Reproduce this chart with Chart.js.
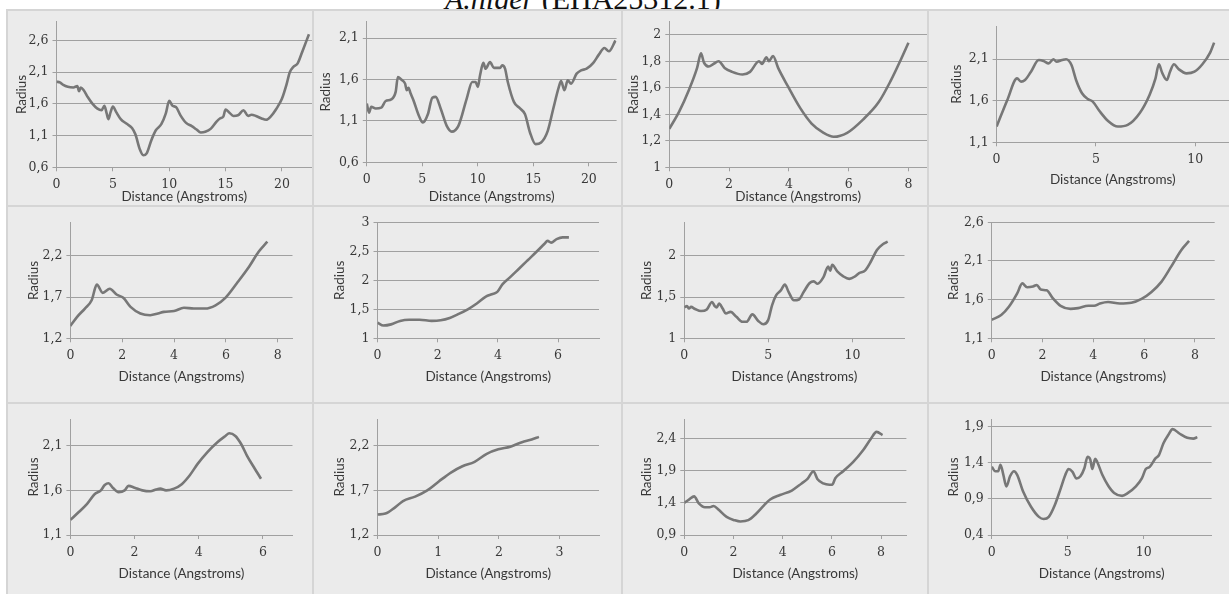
<!DOCTYPE html>
<html>
<head>
<meta charset="utf-8">
<script src="https://cdn.jsdelivr.net/npm/chart.js@4.4.1/dist/chart.umd.min.js"></script>
<style>
  html, body { margin: 0; padding: 0; background: #fff; }
  #fig { position: relative; width: 1229px; height: 594px; overflow: hidden; background: #fff; }
  #title { position: absolute; left: 445px; top: -16px; font-family: "Liberation Serif", "Times New Roman", serif;
           font-size: 30px; line-height: 30px; color: #111; white-space: nowrap; z-index: 0; }
  .cell { position: absolute; background: #ebebeb; z-index: 1; overflow: hidden; }
  .cell canvas { position: absolute; left: 0; top: 0; }
  .rule { position: absolute; background: #d5d5d5; z-index: 2; }
</style>
</head>
<body>
<div id="fig"><div id="title"><i>A.niger</i> (EHA25312.1)</div></div>
<script>
// Channel radius profiles (Angstroms) along the tunnel distance, one array pair per profile.
const p1Dist = [0, 0.3, 0.6, 1.0, 1.5, 1.85, 2.0, 2.15, 2.4, 2.8,
                3.2, 3.6, 4.0, 4.25, 4.45, 4.6, 4.8, 5.0, 5.3, 5.7,
                6.2, 6.7, 7.0, 7.4, 7.7, 8.0, 8.4, 8.8, 9.3, 9.7,
                10.0, 10.3, 10.6, 11.0, 11.5, 12.0, 12.4, 12.8, 13.2, 13.7,
                14.2, 14.5, 14.8, 15.0, 15.3, 15.7, 16.1, 16.6, 17.0, 17.3,
                17.7, 18.2, 18.6, 19.0, 19.5, 20.0, 20.4, 20.7, 21.0, 21.4,
                21.8, 22.4];
const p1Radius = [1.95, 1.94, 1.9, 1.87, 1.86, 1.88, 1.8, 1.86, 1.82, 1.7,
                  1.6, 1.53, 1.5, 1.57, 1.45, 1.36, 1.47, 1.56, 1.47, 1.36,
                  1.29, 1.22, 1.12, 0.88, 0.79, 0.82, 1.02, 1.18, 1.28, 1.45,
                  1.65, 1.57, 1.55, 1.42, 1.3, 1.25, 1.2, 1.15, 1.16, 1.21,
                  1.32, 1.37, 1.4, 1.51, 1.47, 1.41, 1.42, 1.5, 1.41, 1.43,
                  1.41, 1.37, 1.35, 1.4, 1.52, 1.68, 1.9, 2.1, 2.18, 2.24,
                  2.42, 2.7];

const p2Dist = [0, 0.2, 0.4, 0.8, 1.3, 1.7, 2.2, 2.6, 2.8, 3.1,
                3.45, 3.6, 3.75, 3.95, 4.2, 4.7, 5.05, 5.5, 5.9, 6.2,
                6.65, 7.2, 7.65, 8.25, 9.0, 9.5, 9.8, 10.0, 10.2, 10.5,
                10.7, 11.1, 11.45, 12.0, 12.2, 12.45, 12.7, 13.25, 13.8, 14.25,
                14.7, 15.2, 15.7, 16.3, 16.8, 17.3, 17.5, 17.8, 18.1, 18.4,
                18.9, 19.3, 19.8, 20.4, 20.9, 21.4, 21.8, 22.4];
const p2Radius = [1.31, 1.2, 1.27, 1.25, 1.26, 1.34, 1.36, 1.45, 1.63, 1.6,
                  1.55, 1.47, 1.5, 1.43, 1.35, 1.16, 1.08, 1.18, 1.38, 1.39,
                  1.25, 1.04, 0.97, 1.04, 1.37, 1.57, 1.57, 1.51, 1.65, 1.8,
                  1.73, 1.81, 1.74, 1.74, 1.77, 1.73, 1.57, 1.33, 1.25, 1.18,
                  0.96, 0.82, 0.84, 0.98, 1.25, 1.51, 1.58, 1.47, 1.59, 1.55,
                  1.67, 1.71, 1.73, 1.8, 1.9, 1.98, 1.94, 2.07];

const p3Dist = [0, 0.33, 0.66, 0.93, 1.06, 1.16, 1.32, 1.48, 1.65, 1.85,
                2.1, 2.45, 2.7, 3.0, 3.1, 3.25, 3.33, 3.47, 3.64, 3.97,
                4.37, 4.76, 5.16, 5.5, 5.95, 6.48, 7.0, 7.4, 7.74, 8.0];
const p3Radius = [1.29, 1.42, 1.585, 1.75, 1.86, 1.79, 1.76, 1.78, 1.8, 1.75,
                  1.72, 1.7, 1.72, 1.8, 1.78, 1.83, 1.8, 1.84, 1.75, 1.61,
                  1.45, 1.33, 1.26, 1.23, 1.26, 1.36, 1.49, 1.65, 1.81, 1.94];

const p4Dist = [0, 0.54, 1.03, 1.23, 1.43, 1.73, 2.12, 2.36, 2.62, 2.86,
                3.02, 3.3, 3.5, 3.77, 4.0, 4.3, 4.6, 4.84, 5.2, 5.6,
                6.1, 6.6, 7.2, 7.7, 8.0, 8.17, 8.33, 8.57, 8.73, 8.93,
                9.17, 9.56, 9.96, 10.36, 10.75, 10.95];
const p4Radius = [1.29, 1.61, 1.87, 1.83, 1.85, 1.95, 2.09, 2.08, 2.05, 2.1,
                  2.07, 2.09, 2.1, 2.03, 1.85, 1.69, 1.62, 1.59, 1.47, 1.36,
                  1.29, 1.31, 1.45, 1.67, 1.87, 2.04, 1.94, 1.85, 1.95, 2.04,
                  1.98, 1.93, 1.95, 2.04, 2.18, 2.3];

const p5Dist = [0, 0.26, 0.56, 0.82, 1.02, 1.25, 1.52, 1.78, 2.04, 2.32,
                2.7, 3.08, 3.38, 3.61, 4.0, 4.38, 4.76, 5.2, 5.6, 5.98,
                6.43, 6.9, 7.27, 7.6];
const p5Radius = [1.35, 1.46, 1.56, 1.66, 1.85, 1.75, 1.8, 1.73, 1.69, 1.58,
                  1.5, 1.48, 1.5, 1.52, 1.53, 1.57, 1.56, 1.56, 1.6, 1.69,
                  1.87, 2.07, 2.25, 2.37];

const p6Dist = [0, 0.2, 0.45, 0.75, 1.05, 1.4, 1.8, 2.1, 2.4, 2.7,
                3.0, 3.3, 3.6, 3.8, 3.98, 4.15, 4.4, 4.7, 5.0, 5.3,
                5.55, 5.65, 5.77, 5.95, 6.15, 6.36];
const p6Radius = [1.27, 1.22, 1.24, 1.3, 1.32, 1.32, 1.3, 1.31, 1.35, 1.42,
                  1.5, 1.6, 1.72, 1.76, 1.8, 1.93, 2.05, 2.2, 2.35, 2.5,
                  2.63, 2.68, 2.65, 2.71, 2.74, 2.74];

const p7Dist = [0, 0.16, 0.28, 0.4, 0.64, 0.99, 1.34, 1.65, 1.81, 1.93,
                2.07, 2.28, 2.47, 2.75, 3.1, 3.46, 3.7, 4.05, 4.4, 4.7,
                4.99, 5.22, 5.46, 5.74, 5.98, 6.21, 6.52, 6.82, 7.1, 7.46,
                7.7, 7.93, 8.28, 8.56, 8.68, 8.8, 9.1, 9.46, 9.81, 10.16,
                10.4, 10.75, 11.1, 11.46, 11.81, 12.1];
const p7Radius = [1.375, 1.39, 1.36, 1.38, 1.355, 1.33, 1.35, 1.44, 1.39, 1.375,
                  1.42, 1.36, 1.3, 1.32, 1.26, 1.2, 1.2, 1.29, 1.21, 1.17,
                  1.22, 1.4, 1.52, 1.58, 1.65, 1.56, 1.46, 1.47, 1.56, 1.67,
                  1.69, 1.66, 1.74, 1.87, 1.82, 1.89, 1.81, 1.75, 1.72, 1.75,
                  1.79, 1.82, 1.93, 2.07, 2.14, 2.17];

const p8Dist = [0, 0.37, 0.68, 1.0, 1.2, 1.39, 1.62, 1.77, 1.93, 2.16,
                2.4, 2.71, 3.1, 3.4, 3.8, 4.03, 4.26, 4.58, 5.04, 5.5,
                5.9, 6.29, 6.68, 7.07, 7.46, 7.77];
const p8Radius = [1.34, 1.4, 1.51, 1.68, 1.81, 1.76, 1.77, 1.79, 1.73, 1.72,
                  1.62, 1.52, 1.48, 1.49, 1.52, 1.52, 1.55, 1.57, 1.55, 1.56,
                  1.61, 1.7, 1.83, 2.03, 2.24, 2.36];

const p9Dist = [0, 0.27, 0.52, 0.76, 0.95, 1.07, 1.19, 1.32, 1.5, 1.69,
                1.81, 2.0, 2.24, 2.49, 2.67, 2.8, 2.98, 3.23, 3.47, 3.72,
                3.97, 4.27, 4.58, 4.83, 4.95, 5.14, 5.32, 5.5, 5.75, 5.94];
const p9Radius = [1.27, 1.36, 1.45, 1.56, 1.6, 1.66, 1.68, 1.63, 1.58, 1.6,
                  1.65, 1.63, 1.6, 1.59, 1.61, 1.62, 1.6, 1.62, 1.67, 1.77,
                  1.9, 2.03, 2.14, 2.21, 2.24, 2.21, 2.12, 1.99, 1.84, 1.73];

const p10Dist = [0, 0.13, 0.29, 0.42, 0.62, 0.82, 1.01, 1.21, 1.4, 1.6,
                 1.8, 1.99, 2.19, 2.38, 2.54, 2.66];
const p10Radius = [1.43, 1.44, 1.51, 1.58, 1.63, 1.7, 1.8, 1.9, 1.97, 2.02,
                   2.11, 2.16, 2.19, 2.24, 2.27, 2.3];

const p11Dist = [0, 0.19, 0.4, 0.59, 0.84, 1.03, 1.19, 1.4, 1.72, 2.04,
                 2.28, 2.6, 2.92, 3.24, 3.49, 3.89, 4.37, 4.77, 5.01, 5.25,
                 5.41, 5.65, 5.9, 6.01, 6.14, 6.46, 6.86, 7.26, 7.58, 7.82,
                 8.06];
const p11Radius = [1.4, 1.45, 1.5, 1.39, 1.33, 1.33, 1.35, 1.29, 1.18, 1.13,
                   1.11, 1.13, 1.23, 1.36, 1.45, 1.52, 1.59, 1.7, 1.77, 1.89,
                   1.77, 1.7, 1.68, 1.68, 1.78, 1.89, 2.03, 2.21, 2.39, 2.5,
                   2.45];

const p12Dist = [0, 0.23, 0.42, 0.57, 0.76, 0.96, 1.2, 1.46, 1.67, 2.06,
                 2.58, 3.1, 3.41, 3.75, 4.14, 4.53, 4.84, 5.05, 5.31, 5.57,
                 5.83, 6.09, 6.3, 6.48, 6.61, 6.8, 6.93, 7.27, 7.66, 8.05,
                 8.57, 8.96, 9.48, 9.87, 10.13, 10.39, 10.78, 10.99, 11.3, 11.61,
                 11.9, 12.34, 12.86, 13.26, 13.52];
const p12Radius = [1.34, 1.28, 1.28, 1.37, 1.23, 1.07, 1.21, 1.28, 1.23, 1.0,
                   0.79, 0.65, 0.62, 0.65, 0.81, 1.04, 1.23, 1.31, 1.27, 1.18,
                   1.21, 1.32, 1.48, 1.44, 1.31, 1.45, 1.41, 1.23, 1.08, 0.98,
                   0.94, 0.98, 1.07, 1.18, 1.31, 1.34, 1.46, 1.5, 1.67, 1.78,
                   1.86, 1.8, 1.74, 1.73, 1.75];

// Axis ranges and tick labels for each profile.
const p1XTicks = [0, 5, 10, 15, 20],  p1YTicks = [0.6, 1.1, 1.6, 2.1, 2.6];
const p2XTicks = [0, 5, 10, 15, 20],  p2YTicks = [0.6, 1.1, 1.6, 2.1];
const p3XTicks = [0, 2, 4, 6, 8],     p3YTicks = [1, 1.2, 1.4, 1.6, 1.8, 2];
const p4XTicks = [0, 5, 10],          p4YTicks = [1.1, 1.6, 2.1];
const p5XTicks = [0, 2, 4, 6, 8],     p5YTicks = [1.2, 1.7, 2.2];
const p6XTicks = [0, 2, 4, 6],        p6YTicks = [1, 1.5, 2, 2.5, 3];
const p7XTicks = [0, 5, 10],          p7YTicks = [1, 1.5, 2];
const p8XTicks = [0, 2, 4, 6, 8],     p8YTicks = [1.1, 1.6, 2.1, 2.6];
const p9XTicks = [0, 2, 4, 6],        p9YTicks = [1.1, 1.6, 2.1];
const p10XTicks = [0, 1, 2, 3],       p10YTicks = [1.2, 1.7, 2.2];
const p11XTicks = [0, 2, 4, 6, 8],    p11YTicks = [0.9, 1.4, 1.9, 2.4];
const p12XTicks = [0, 5, 10],         p12YTicks = [0.4, 0.9, 1.4, 1.9];

const p1Range = [0, 22.67, 0.6, 2.9],  p2Range = [0, 22.5, 0.6, 2.3];
const p3Range = [0, 8.62, 1.0, 2.1],   p4Range = [0, 11.7, 1.1, 2.5];
const p5Range = [0, 8.57, 1.2, 2.6],   p6Range = [0, 7.36, 1.0, 3.0];
const p7Range = [0, 13.1, 1.0, 2.4],   p8Range = [0, 8.78, 1.1, 2.6];
const p9Range = [0, 6.92, 1.1, 2.4],   p10Range = [0, 3.65, 1.2, 2.5];
const p11Range = [0, 9.03, 0.9, 2.7],  p12Range = [0, 14.46, 0.4, 2.0];

const xTitle = 'Distance (Angstroms)';
const yTitle = 'Radius';

// Grid of panels: column and row edges of the figure.
const colEdges = [7, 313, 622, 928, 1229];
const rowEdges = [10, 206, 403, 594];

// Panel placement: plot box [left, top, right, bottom], x-title centre y, y-title centre x.
const panels = [
  { d: p1Dist,  r: p1Radius,  xt: p1XTicks,  yt: p1YTicks,  rg: p1Range,  c: 0, w: 0, box: [56.5, 18.3, 312, 167.3],   tY: 197,   tX: 21.7 },
  { d: p2Dist,  r: p2Radius,  xt: p2XTicks,  yt: p2YTicks,  rg: p2Range,  c: 1, w: 0, box: [366.8, 18.3, 616.6, 162.3], tY: 197,  tX: 326 },
  { d: p3Dist,  r: p3Radius,  xt: p3XTicks,  yt: p3YTicks,  rg: p3Range,  c: 2, w: 0, box: [669.3, 18.3, 927, 167.3],  tY: 197,   tX: 633.7 },
  { d: p4Dist,  r: p4Radius,  xt: p4XTicks,  yt: p4YTicks,  rg: p4Range,  c: 3, w: 0, box: [996.6, 26, 1229, 142.3],   tY: 180,   tX: 957 },
  { d: p5Dist,  r: p5Radius,  xt: p5XTicks,  yt: p5YTicks,  rg: p5Range,  c: 0, w: 1, box: [70.4, 222.7, 292.5, 338.3], tY: 377,  tX: 33.6 },
  { d: p6Dist,  r: p6Radius,  xt: p6XTicks,  yt: p6YTicks,  rg: p6Range,  c: 1, w: 1, box: [377.5, 222.3, 599, 338.3], tY: 377,   tX: 340 },
  { d: p7Dist,  r: p7Radius,  xt: p7XTicks,  yt: p7YTicks,  rg: p7Range,  c: 2, w: 1, box: [684.3, 222.7, 904.5, 338.3], tY: 377, tX: 646.8 },
  { d: p8Dist,  r: p8Radius,  xt: p8XTicks,  yt: p8YTicks,  rg: p8Range,  c: 3, w: 1, box: [991.8, 222.3, 1214.7, 338.3], tY: 377, tX: 954 },
  { d: p9Dist,  r: p9Radius,  xt: p9XTicks,  yt: p9YTicks,  rg: p9Range,  c: 0, w: 2, box: [70.4, 419, 292.5, 535],    tY: 573.3, tX: 33.6 },
  { d: p10Dist, r: p10Radius, xt: p10XTicks, yt: p10YTicks, rg: p10Range, c: 1, w: 2, box: [377.5, 419, 599, 535],    tY: 573.3, tX: 340 },
  { d: p11Dist, r: p11Radius, xt: p11XTicks, yt: p11YTicks, rg: p11Range, c: 2, w: 2, box: [684.3, 419, 906.4, 535],  tY: 573.3, tX: 646.8 },
  { d: p12Dist, r: p12Radius, xt: p12XTicks, yt: p12YTicks, rg: p12Range, c: 3, w: 2, box: [991.8, 419, 1211.6, 535], tY: 573.3, tX: 954 }
];

const lineColor = '#777777';
const gridColor = '#a0a0a0';
const tickFont = { family: '"DejaVu Serif", "Liberation Serif", serif', size: 12.5 };
const titleFont = { family: 'Lato, "Open Sans", sans-serif', size: 13.5 };
const textColor = '#383838';

const fig = document.getElementById('fig');

function fmtY(v) { return (Math.round(v * 10) / 10).toString().replace('.', ','); }

panels.forEach(p => {
  const x0 = colEdges[p.c], x1 = colEdges[p.c + 1];
  const y0 = rowEdges[p.w], y1 = rowEdges[p.w + 1];
  const cw = x1 - x0, ch = y1 - y0;

  const cell = document.createElement('div');
  cell.className = 'cell';
  cell.style.left = x0 + 'px'; cell.style.top = y0 + 'px';
  cell.style.width = cw + 'px'; cell.style.height = ch + 'px';
  const cv = document.createElement('canvas');
  cv.width = cw; cv.height = ch;
  cv.style.width = cw + 'px'; cv.style.height = ch + 'px';
  cell.appendChild(cv);
  fig.appendChild(cell);

  const [L, T, R, B] = p.box;
  const yAxisW = L - x0;
  const xAxisH = y1 - B;
  const lh = titleFont.size * 1.2;
  const titlePadBottom = Math.max(0, y1 - p.tY - lh / 2);
  const titlePadTop = Math.max(0, p.tX - x0 - lh / 2);

  new Chart(cv, {
    type: 'line',
    data: {
      datasets: [{
        data: p.d.map((x, i) => ({ x: x, y: p.r[i] })),
        borderColor: lineColor,
        borderWidth: 2.6,
        pointRadius: 0,
        fill: false,
        cubicInterpolationMode: 'monotone'
      }]
    },
    options: {
      responsive: false,
      animation: false,
      devicePixelRatio: 1,
      layout: { padding: { left: 0, top: T - y0, right: Math.max(0, x1 - R), bottom: 0 } },
      plugins: { legend: { display: false }, tooltip: { enabled: false }, title: { display: false } },
      scales: {
        x: {
          type: 'linear',
          min: p.rg[0], max: p.rg[1],
          afterBuildTicks: s => { s.ticks = p.xt.map(v => ({ value: v })); },
          afterFit: s => { s.height = xAxisH; },
          grid: { drawOnChartArea: false, drawTicks: true, tickLength: 4, color: gridColor },
          border: { display: true, color: gridColor, width: 1 },
          ticks: { autoSkip: false, maxRotation: 0, padding: 6, font: tickFont, color: textColor,
                   callback: v => String(v) },
          title: { display: true, text: xTitle, font: titleFont, color: textColor,
                   padding: { top: 0, bottom: titlePadBottom } }
        },
        y: {
          min: p.rg[2], max: p.rg[3],
          afterBuildTicks: s => { s.ticks = p.yt.map(v => ({ value: v })); },
          afterFit: s => { s.width = yAxisW; },
          grid: { drawTicks: true, tickLength: 4, color: gridColor },
          border: { display: true, color: gridColor, width: 1 },
          ticks: { autoSkip: false, padding: 4, font: tickFont, color: textColor, callback: v => fmtY(v) },
          title: { display: true, text: yTitle, font: titleFont, color: textColor,
                   padding: { top: titlePadTop, bottom: 0 } }
        }
      }
    }
  });
});

// Panel separators
function rule(x, y, w, h) {
  const d = document.createElement('div');
  d.className = 'rule';
  d.style.left = x + 'px'; d.style.top = y + 'px';
  d.style.width = w + 'px'; d.style.height = h + 'px';
  fig.appendChild(d);
}
for (let i = 0; i < colEdges.length - 1; i++) rule(colEdges[i] - 1, rowEdges[0] - 1, 2, 594);
for (let j = 0; j < rowEdges.length - 1; j++) rule(colEdges[0] - 1, rowEdges[j] - 1, 1229, 2);
</script>
</body>
</html>
